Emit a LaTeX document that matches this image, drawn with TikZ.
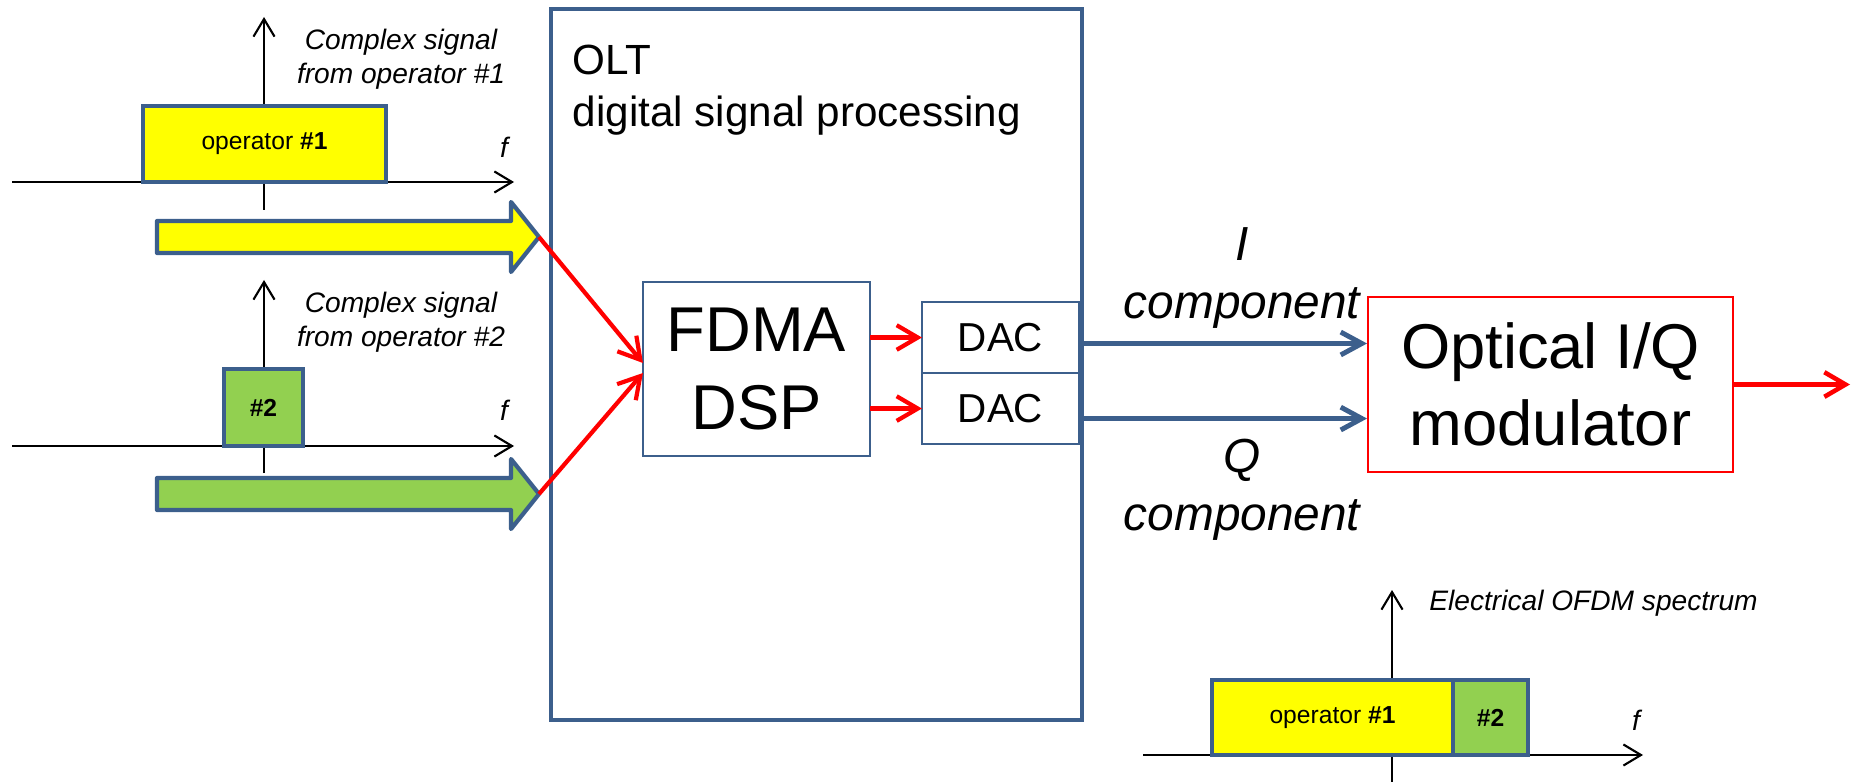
\documentclass[tikz,border=0pt]{standalone}
\usepackage{fontspec}
\setmainfont{Liberation Sans}
\usetikzlibrary{arrows.meta,positioning}
\definecolor{bordblue}{RGB}{60,95,140}
\definecolor{opyellow}{RGB}{255,255,0}
\definecolor{opgreen}{RGB}{146,208,80}

\begin{document}
\begin{tikzpicture}[x=0.01cm, y=-0.01cm,
    freqaxis/.style={line width=0.6pt, -{Straight Barb[length=5pt,width=6pt]}},
    specbox/.style={draw=bordblue, line width=1.2pt, outer sep=0pt, inner sep=0pt, font=\fontsize{7}{8}\selectfont},
    blockarr/.style={draw=bordblue, line width=1.2pt, line join=round},
    sigtext/.style={align=center, font=\fontsize{8}{9.7}\selectfont\itshape},
    flabel/.style={font=\fontsize{8}{9}\selectfont\itshape},
    dspbox/.style={draw=bordblue, line width=0.5pt, outer sep=0pt, align=center},
    redarrow/.style={red, line width=1.2pt, -{Straight Barb[length=6pt,width=7pt]}},
    iqarrow/.style={bordblue, line width=1.4pt, -{Straight Barb[length=6pt,width=6.5pt]}},
    iqlabel/.style={align=center, font=\fontsize{13.6}{16.5}\selectfont\itshape}]
    \useasboundingbox (0,0) rectangle (1854,782);

    % Spectrum of operator #1
    \draw[freqaxis] (264,210) -- (264,17);
    \draw[freqaxis] (12,182) -- (514,182);
    \node[specbox, fill=opyellow, minimum width=2.43cm, minimum height=0.76cm] (op1) at (264.5,144) {operator \textbf{\#1}};
    \node[sigtext] (sig1) at (401,59) {Complex signal\\from operator \#1};
    \node[flabel] (f1) at (504,147) {f};
    \draw[blockarr, fill=opyellow] (157,221) -- (511,221) -- (511,202) -- (539,237) -- (511,272) -- (511,253) -- (157,253) -- cycle;
    \coordinate (tip1) at (539,237);

    % Spectrum of operator #2
    \draw[freqaxis] (264,473) -- (264,280);
    \draw[freqaxis] (12,446) -- (514,446);
    \node[specbox, fill=opgreen, minimum width=0.79cm, minimum height=0.77cm] (op2) at (263.5,407.5) {\textbf{\#2}};
    \node[sigtext] (sig2) at (401,322) {Complex signal\\from operator \#2};
    \node[flabel] (f2) at (504,410) {f};
    \draw[blockarr, fill=opgreen] (157,478) -- (511,478) -- (511,459) -- (539,494) -- (511,529) -- (511,510) -- (157,510) -- cycle;
    \coordinate (tip2) at (539,494);

    % OLT
    \node[draw=bordblue, line width=1.2pt, minimum width=5.31cm, minimum height=7.11cm] (olt) at (816.5,364.5) {};
    \node[anchor=north west, inner sep=0pt, align=left, font=\fontsize{12}{15}\selectfont] (oltlab) at (572,44) {OLT\\digital signal processing};
    \node[dspbox, minimum width=2.27cm, minimum height=1.74cm, font=\fontsize{18}{22}\selectfont] (fdma) at (756.5,369) {FDMA\\DSP};
    \node[dspbox, minimum width=1.57cm, minimum height=0.71cm, font=\fontsize{11.5}{13}\selectfont] (dac1) at (1000.5,337.5) {DAC};
    \node[dspbox, minimum width=1.57cm, minimum height=0.71cm, font=\fontsize{11.5}{13}\selectfont, below=0pt of dac1] (dac2) {DAC};

    \draw[redarrow] (tip1) -- ([yshift=0.06cm]fdma.west);
    \draw[redarrow] (tip2) -- ([yshift=-0.04cm]fdma.west);
    \draw[redarrow] (fdma.east |- dac1.west) -- (dac1.west);
    \draw[redarrow] (fdma.east |- dac2.west) -- (dac2.west);

    % I/Q modulator
    \node[draw=red, line width=0.5pt, minimum width=3.65cm, minimum height=1.75cm, align=center, font=\fontsize{18}{22}\selectfont] (mod) at (1550.5,384.5) {Optical I/Q\\modulator};
    \coordinate (iout) at ([yshift=-0.06cm]dac1.east);
    \coordinate (qout) at ([yshift=-0.10cm]dac2.east);
    \draw[iqarrow] (iout) -- (iout -| mod.west);
    \draw[iqarrow] (qout) -- (qout -| mod.west);
    \node[iqlabel] (ilab) at (1242,278) {I\\component};
    \node[iqlabel] (qlab) at (1242,490) {Q\\component};
    \coordinate (out) at (1850,384.5);
    \draw[redarrow, line width=1.3pt] (mod.east) -- (out);

    % Electrical OFDM spectrum
    \draw[freqaxis] (1392,782) -- (1392,590);
    \draw[freqaxis] (1143,755) -- (1643,755);
    \node[specbox, fill=opyellow, minimum width=2.41cm, minimum height=0.75cm] (opb1) at (1332.5,717.5) {operator \textbf{\#1}};
    \node[specbox, fill=opgreen, minimum width=0.75cm, minimum height=0.75cm, right=0pt of opb1] (opb2) {\textbf{\#2}};
    \node[flabel] (fb) at (1636,720) {f};
    \node[flabel, anchor=west] (elab) at (1417,603) {Electrical OFDM spectrum};
\end{tikzpicture}
\end{document}
